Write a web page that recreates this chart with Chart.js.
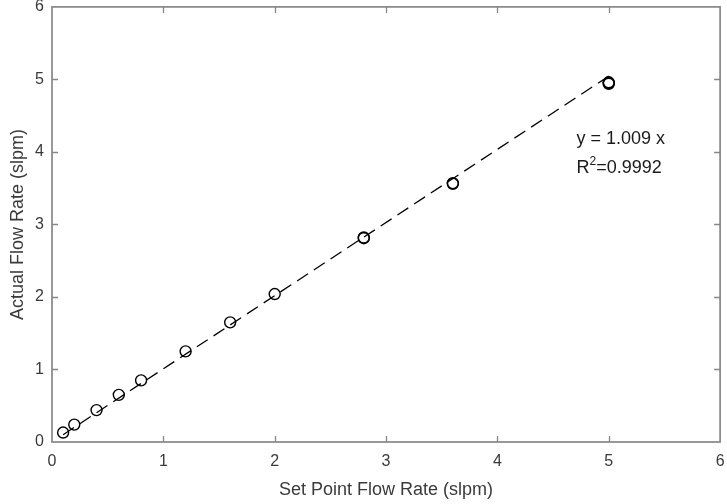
<!DOCTYPE html>
<html>
<head>
<meta charset="utf-8">
<script src="https://cdn.jsdelivr.net/npm/chart.js@4.4.1/dist/chart.umd.min.js"></script>
<style>
  html, body { margin: 0; padding: 0; background: #ffffff; }
  #wrap { width: 727px; height: 504px; }
</style>
</head>
<body>
<div id="wrap"><canvas id="c"></canvas></div>
<script>
// Measured calibration points (set point vs. actual flow, slpm)
const setPoint = [0.1, 0.2, 0.4, 0.6, 0.8, 1.2, 1.6, 2.0, 2.8, 2.8, 3.6, 3.6, 5.0, 5.0, 5.0];
const actual   = [0.13, 0.24, 0.44, 0.65, 0.85, 1.25, 1.65, 2.04, 2.81, 2.82, 3.56, 3.57, 4.94, 4.95, 4.96];

// Linear fit through the origin
const fitSlope = 1.009;
const fitRange = [0.1, 5.0];
const fitText = 'y = 1.009 x';
const r2Value = '0.9992';

// Axis ticks
const xTicks = [0, 1, 2, 3, 4, 5, 6];
const yTicks = [0, 1, 2, 3, 4, 5, 6];

const axisColor = '#878787';
const labelColor = '#3a3a3a';
const fontFamily = '"Liberation Sans", Arial, Helvetica, sans-serif';

const points = setPoint.map((x, i) => ({ x: x, y: actual[i] }));
const fitLine = fitRange.map(x => ({ x: x, y: fitSlope * x }));

// Box around the plot area with inward tick marks on all four sides,
// plus the fit equation text.
const framePlugin = {
  id: 'frame',
  afterDraw(chart) {
    const { ctx, chartArea: a, scales: { x, y } } = chart;
    const tl = 6;
    ctx.save();
    ctx.strokeStyle = axisColor;
    ctx.lineWidth = 1.3;
    ctx.beginPath();
    xTicks.forEach(v => {
      if (v === xTicks[0] || v === xTicks[xTicks.length - 1]) return;
      const px = Math.round(x.getPixelForValue(v)) + 0.5;
      ctx.moveTo(px, a.bottom); ctx.lineTo(px, a.bottom - tl);
      ctx.moveTo(px, a.top); ctx.lineTo(px, a.top + tl);
    });
    yTicks.forEach(v => {
      if (v === yTicks[0] || v === yTicks[yTicks.length - 1]) return;
      const py = Math.round(y.getPixelForValue(v)) + 0.5;
      ctx.moveTo(a.left, py); ctx.lineTo(a.left + tl, py);
      ctx.moveTo(a.right, py); ctx.lineTo(a.right - tl, py);
    });
    ctx.stroke();
    ctx.lineWidth = 1.7;
    ctx.strokeRect(a.left, a.top, a.right - a.left, a.bottom - a.top);

    // Fit annotation
    ctx.fillStyle = '#1a1a1a';
    ctx.textBaseline = 'middle';
    ctx.textAlign = 'left';
    const tx = x.getPixelForValue(4.71);
    ctx.font = '18px ' + fontFamily;
    ctx.fillText(fitText, tx, y.getPixelForValue(4.18));
    const ry = y.getPixelForValue(3.78);
    ctx.fillText('R', tx, ry);
    let w = ctx.measureText('R').width;
    ctx.font = '12px ' + fontFamily;
    ctx.fillText('2', tx + w, ry - 6);
    w += ctx.measureText('2').width;
    ctx.font = '18px ' + fontFamily;
    ctx.fillText('=' + r2Value, tx + w, ry);
    ctx.restore();
  }
};

const tickFont = { family: fontFamily, size: 16 };
const titleFont = { family: fontFamily, size: 18 };

new Chart(document.getElementById('c'), {
  type: 'scatter',
  data: {
    datasets: [
      {
        label: 'Fit',
        data: fitLine,
        showLine: true,
        borderColor: '#000000',
        borderWidth: 1.3,
        borderDash: [13, 7],
        pointRadius: 0,
        fill: false,
        order: 2
      },
      {
        label: 'Measured',
        data: points,
        pointStyle: 'circle',
        pointRadius: 5.5,
        pointHoverRadius: 5.5,
        pointBorderWidth: 1.4,
        borderColor: '#000000',
        backgroundColor: 'rgba(0,0,0,0)',
        order: 1
      }
    ]
  },
  options: {
    responsive: true,
    maintainAspectRatio: false,
    animation: false,
    layout: { padding: { left: 0, top: 6, right: 5, bottom: 0 } },
    plugins: {
      legend: { display: false },
      tooltip: { enabled: false }
    },
    scales: {
      x: {
        type: 'linear',
        min: 0, max: 6,
        afterBuildTicks: s => { s.ticks = xTicks.map(v => ({ value: v })); },
        afterFit: s => { s.height = 62; s.paddingLeft = 0; s.paddingRight = 0; },
        grid: { display: false, drawTicks: false },
        border: { display: false },
        ticks: { color: labelColor, font: tickFont, padding: 10, maxRotation: 0 },
        title: {
          display: true, text: 'Set Point Flow Rate (slpm)',
          color: labelColor, font: titleFont, padding: { top: 0, bottom: 3 }
        }
      },
      y: {
        type: 'linear',
        min: 0, max: 6,
        afterBuildTicks: s => { s.ticks = yTicks.map(v => ({ value: v })); },
        afterFit: s => { s.width = 52; s.paddingTop = 0; s.paddingBottom = 0; },
        grid: { display: false, drawTicks: false },
        border: { display: false },
        ticks: { color: labelColor, font: tickFont, padding: 8 },
        title: {
          display: true, text: 'Actual Flow Rate (slpm)',
          color: labelColor, font: titleFont, padding: { top: 7, bottom: 0 }
        }
      }
    }
  },
  plugins: [framePlugin]
});
</script>
</body>
</html>
